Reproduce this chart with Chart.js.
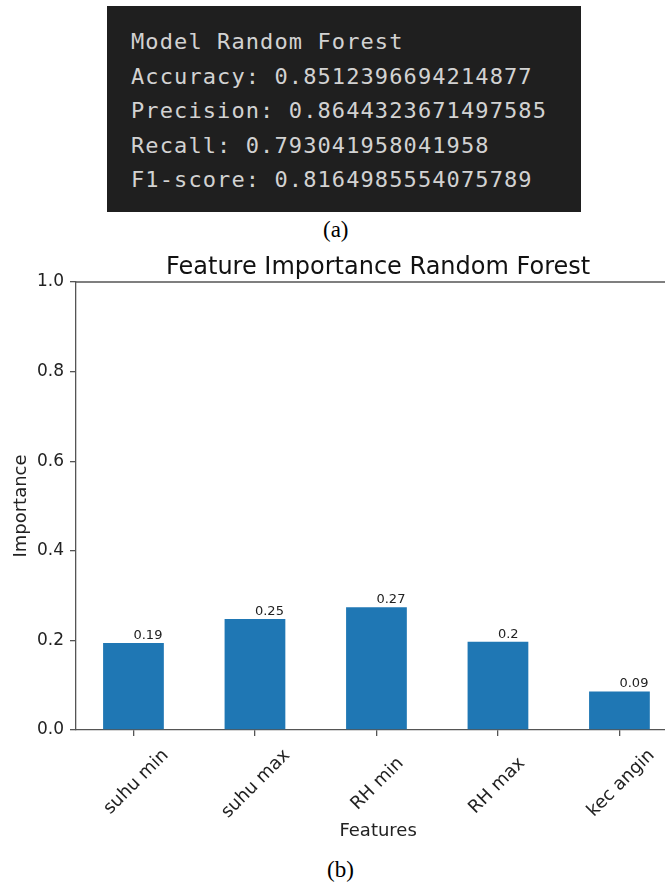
<!DOCTYPE html>
<html>
<head>
<meta charset="utf-8">
<script src="https://cdn.jsdelivr.net/npm/chart.js@4.4.1/dist/chart.umd.min.js"></script>
<style>
  html, body { margin: 0; padding: 0; background: #fff; overflow: hidden; width: 665px; height: 884px; }
  #term {
    position: absolute; left: 107px; top: 6px; width: 474px; height: 206px;
    background: #1f1f1f; color: #d2d2d2;
    font-family: "DejaVu Sans Mono", monospace; font-size: 22px; letter-spacing: 1.1px;
    box-sizing: border-box; padding: 19px 0 0 24px; line-height: 34.5px; white-space: pre;
  }
  .cap { position: absolute; font-family: "Liberation Serif", serif; font-size: 23px; line-height: 1; }
  #chart { position: absolute; left: 0; top: 240px; }
</style>
</head>
<body>
<div id="term"></div>
<div class="cap" style="left:323px; top:218px;">(a)</div>
<canvas id="chart" width="760" height="610"></canvas>
<div class="cap" style="left:327px; top:858px;">(b)</div>
<script>
// model output shown in the terminal panel
const modelName = 'Random Forest';
const metricNames = ['Accuracy', 'Precision', 'Recall', 'F1-score'];
const metricValues = ['0.8512396694214877', '0.8644323671497585', '0.793041958041958', '0.8164985554075789'];

// feature importance chart
const features = ['suhu min', 'suhu max', 'RH min', 'RH max', 'kec angin'];
const importance = [0.194, 0.248, 0.274, 0.197, 0.086];
const yTicks = [0.0, 0.2, 0.4, 0.6, 0.8, 1.0];

const lines = ['Model ' + modelName].concat(metricNames.map((m, i) => m + ': ' + metricValues[i]));
document.getElementById('term').textContent = lines.join('\n');

Chart.defaults.font.family = 'DejaVu Sans';
Chart.defaults.color = '#222';

const tickFont = { family: 'DejaVu Sans', size: 17 };
const xTickFont = { family: 'DejaVu Sans', size: 18 };
const axisColor = '#555';

// rotated labels in Chart.js hang from their right end; pad short ones so all centre on the tick
const measureCtx = document.createElement('canvas').getContext('2d');
measureCtx.font = '18px "DejaVu Sans"';
const labelWidths = features.map((f) => measureCtx.measureText(f).width);
const maxLabelW = Math.max(...labelWidths);
const spaceW = measureCtx.measureText(' ').width;
const paddedLabels = features.map((f, i) => f + ' '.repeat(Math.round((maxLabelW - labelWidths[i]) / 2 / spaceW)));

const barLabels = {
    id: 'barLabels',
    afterDatasetsDraw(chart) {
        const ctx = chart.ctx;
        const meta = chart.getDatasetMeta(0);
        ctx.save();
        ctx.font = '13px "DejaVu Sans"';
        ctx.fillStyle = '#222';
        ctx.textAlign = 'left';
        ctx.textBaseline = 'bottom';
        meta.data.forEach((bar, i) => {
            const v = Math.round(importance[i] * 100) / 100;
            ctx.fillText(String(v), bar.x, bar.y - 1);
        });
        ctx.restore();
    }
};

const topSpineAndTitle = {
    id: 'topSpineAndTitle',
    afterDraw(chart) {
        const { ctx, chartArea: a } = chart;
        ctx.save();
        ctx.strokeStyle = axisColor;
        ctx.lineWidth = 1.3;
        ctx.beginPath();
        ctx.moveTo(a.left, a.top);
        ctx.lineTo(a.right, a.top);
        ctx.stroke();
        ctx.font = '24px "DejaVu Sans"';
        ctx.fillStyle = '#111';
        ctx.textAlign = 'center';
        ctx.textBaseline = 'alphabetic';
        ctx.fillText('Feature Importance Random Forest', (a.left + a.right) / 2, a.top - 8);
        ctx.restore();
    }
};

new Chart(document.getElementById('chart'), {
    type: 'bar',
    data: {
        datasets: [{
            data: features.map((f, i) => ({ x: i, y: importance[i] })),
            backgroundColor: '#1f77b4',
            barPercentage: 0.5,
            categoryPercentage: 1.0,
        }],
    },
    options: {
        responsive: false,
        animation: false,
        layout: { padding: { left: 0, right: 79.8, top: 42, bottom: 0 } },
        plugins: {
            legend: { display: false },
            tooltip: { enabled: false },
        },
        scales: {
            x: {
                type: 'linear',
                offset: false,
                min: -0.473,
                max: 4.5,
                afterBuildTicks: (s) => { s.ticks = features.map((f, i) => ({ value: i })); },
                grid: { drawOnChartArea: false, offset: false, tickLength: 6, color: axisColor, lineWidth: 1.3 },
                border: { display: true, color: axisColor, width: 1.3 },
                ticks: {
                    font: xTickFont,
                    color: '#222',
                    autoSkip: false,
                    maxRotation: 45,
                    minRotation: 45,
                    padding: 9,
                    labelOffset: maxLabelW * 0.3536 + 1,
                    callback: (v) => paddedLabels[v],
                },
                title: { display: true, text: 'Features', font: { family: 'DejaVu Sans', size: 18 }, color: '#222', padding: { top: 0, bottom: 8 } },
                afterFit: (s) => { s.height = 120; },
            },
            y: {
                min: 0,
                max: 1,
                afterBuildTicks: (s) => { s.ticks = yTicks.map((v) => ({ value: v })); },
                grid: { drawOnChartArea: false, tickLength: 6, color: axisColor, lineWidth: 1.3 },
                border: { display: true, color: axisColor, width: 1.3 },
                ticks: { font: tickFont, color: '#222', padding: 6, callback: (v) => Number(v).toFixed(1) },
                title: { display: true, text: 'Importance', font: { family: 'DejaVu Sans', size: 18 }, color: '#222', padding: { top: 11, bottom: 0 } },
                afterFit: (s) => { s.width = 76; },
            },
        },
    },
    plugins: [barLabels, topSpineAndTitle],
});
</script>
</body>
</html>
